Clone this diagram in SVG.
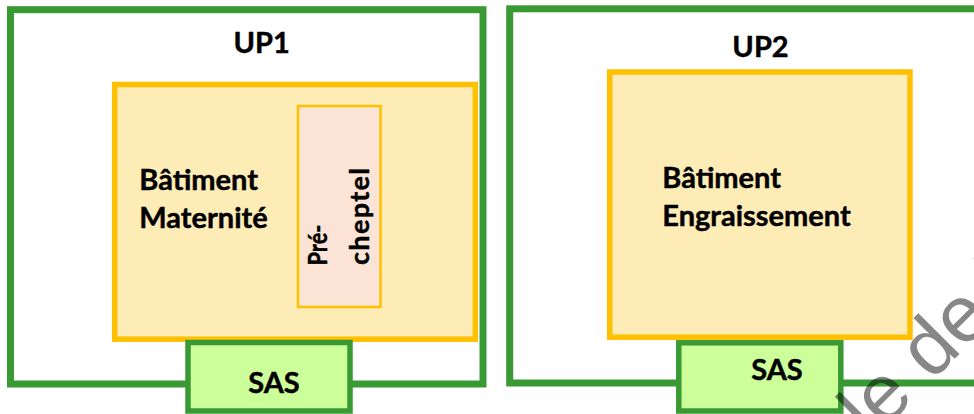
<svg xmlns="http://www.w3.org/2000/svg" width="974" height="414" viewBox="0 0 974 414">
  <style>
    .up { fill: #ffffff; stroke: #399a34; stroke-width: 7; }
    .bat { fill: #feecb7; stroke: #ffc000; stroke-width: 5.5; }
    .pre { fill: #fbe4d5; stroke: #ffc000; stroke-width: 2.5; }
    .sas { fill: #ccff99; stroke: #399a34; stroke-width: 5.5; }
    .lbl { font-family: Lato, "Liberation Sans", sans-serif; font-weight: bold; font-size: 29px; fill: #000000; stroke: #000000; stroke-width: 0.45; }
    .ctr { text-anchor: middle; }
    .vlbl { font-family: Lato, "Liberation Sans", sans-serif; font-weight: bold; font-size: 27px; fill: #000000; stroke: #000000; stroke-width: 0.45; }
    .wm { font-family: "Liberation Sans", Arial, sans-serif; font-size: 80px; fill: #000000; fill-opacity: 0.47; }
  </style>
  <rect x="0" y="0" width="974" height="414" fill="#ffffff"/>

  <g id="up1">
    <rect class="up" x="10.5" y="9.7" width="472.5" height="374.3"/>
    <text class="lbl ctr" x="261.7" y="53">UP1</text>
  </g>
  <g id="up2">
    <rect class="up" x="509.7" y="8.8" width="500" height="374.2"/>
    <text class="lbl ctr" x="760.5" y="57.3">UP2</text>
  </g>

  <g id="batiment-maternite">
    <rect class="bat" x="114.7" y="84.5" width="360.6" height="254.7"/>
    <text class="lbl" x="139.3" y="190">Bâtiment</text>
    <text class="lbl" x="139.3" y="227.7">Maternité</text>
  </g>
  <g id="pre-cheptel">
    <rect class="pre" x="298" y="106" width="82.5" height="201"/>
    <text class="vlbl" transform="translate(327,265.5) rotate(-90)" textLength="41" lengthAdjust="spacingAndGlyphs">Pré-</text>
    <text class="vlbl" transform="translate(369,265) rotate(-90)" textLength="97" lengthAdjust="spacing">cheptel</text>
  </g>
  <g id="batiment-engraissement">
    <rect class="bat" x="609.7" y="72" width="300.3" height="265.2"/>
    <text class="lbl" x="662.3" y="188.3">Bâtiment</text>
    <text class="lbl" x="662.3" y="226">Engraissement</text>
  </g>

  <g id="sas1">
    <rect class="sas" x="188" y="342.5" width="162" height="68.5"/>
    <text class="lbl ctr" x="274" y="393.3">SAS</text>
  </g>
  <g id="sas2">
    <rect class="sas" x="678.8" y="342.8" width="162" height="68.2"/>
    <text class="lbl ctr" x="777" y="380">SAS</text>
  </g>

  <g id="connectors"/>

  <text class="wm" transform="translate(872,441.6) rotate(-45)">le de l</text>
</svg>
